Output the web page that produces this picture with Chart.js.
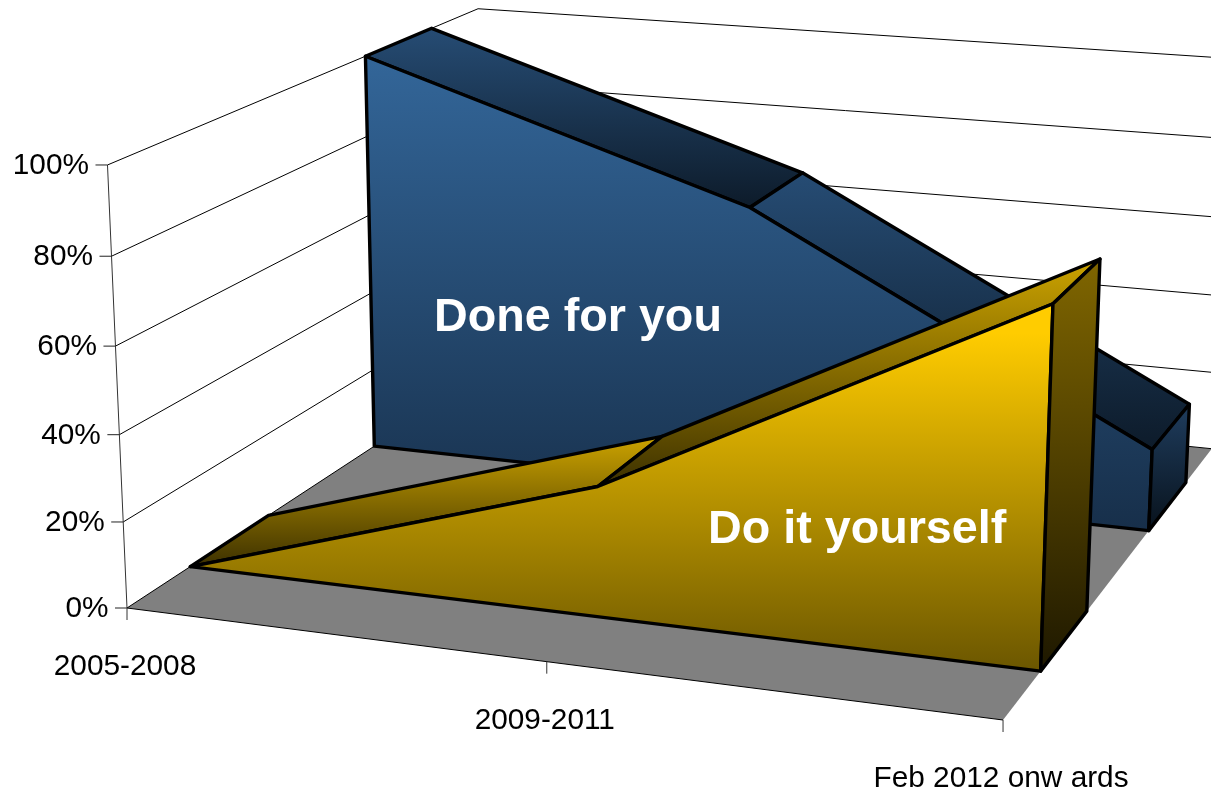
<!DOCTYPE html>
<html>
<head>
<meta charset="utf-8">
<title>Done for you / Do it yourself</title>
<script src="https://cdn.jsdelivr.net/npm/chart.js@4/dist/chart.umd.min.js"></script>
<style>
html,body{margin:0;padding:0;background:#fff;overflow:hidden;}
canvas{display:block;}
</style>
</head>
<body>
<canvas id="grafico" width="1211" height="789"></canvas>
<script>

/* =============================
DATA
============================= */

const categorias=["2005-2008","2009-2011","Feb 2012 onw ards"];
const doneForYou=[100,70,20];
const doItYourself=[0,30,80];
const yTicks=[0,20,40,60,80,100];
const yTickLabels=["0%","20%","40%","60%","80%","100%"];

/* =============================
PROJECTION (3D box to screen)
u = along categories, v = height, d = depth, all 0..1
============================= */

function projetar(u,v,d){
const w=1-0.08*u-0.0362*v+0.225*d;
return {
x:(127+795.8*u-23.4*v+464.7*d)/w,
y:(608+54.4*u-449*v-148.6*d)/w
};
}

const FONTE='"Liberation Sans", Arial, sans-serif';

function poligono(ctx,pts){
ctx.beginPath();
pts.forEach((p,i)=>{
if(i==0) ctx.moveTo(p.x,p.y);
else ctx.lineTo(p.x,p.y);
});
ctx.closePath();
}

function linha(ctx,a,b,cor,larg){
ctx.strokeStyle=cor;
ctx.lineWidth=larg;
ctx.beginPath();
ctx.moveTo(a.x,a.y);
ctx.lineTo(b.x,b.y);
ctx.stroke();
}

/* face with vertical gradient, thick black border */
function face(ctx,pts,paradas){
const ys=pts.map(p=>p.y);
const g=ctx.createLinearGradient(0,Math.min(...ys),0,Math.max(...ys));
paradas.forEach(([pos,cor])=>g.addColorStop(pos,cor));
poligono(ctx,pts);
ctx.fillStyle=g;
ctx.fill();
ctx.strokeStyle="#000";
ctx.lineWidth=3.4;
ctx.lineJoin="round";
ctx.stroke();
}

/* =============================
3D AREA SERIES
============================= */

function desenharSerie(chart,indice,d0,d1,cores){

const ctx=chart.ctx;
const area=chart.chartArea;

/* points come from the library's scales, normalised to the chart area */
const pontos=chart.getDatasetMeta(indice).data.map(el=>({
u:(el.x-area.left)/area.width,
v:(area.bottom-el.y)/area.height
}));

/* top facets */
for(let i=0;i<pontos.length-1;i++){
const a=pontos[i],b=pontos[i+1];
face(ctx,[
projetar(a.u,a.v,d0),projetar(a.u,a.v,d1),
projetar(b.u,b.v,d1),projetar(b.u,b.v,d0)
],cores.topo);
}

/* front */
const frente=pontos.map(p=>projetar(p.u,p.v,d0));
const ult=pontos[pontos.length-1],pri=pontos[0];
frente.push(projetar(ult.u,0,d0));
frente.push(projetar(pri.u,0,d0));
face(ctx,frente,cores.frente);

/* right cap */
face(ctx,[
projetar(ult.u,ult.v,d0),projetar(ult.u,ult.v,d1),
projetar(ult.u,0,d1),projetar(ult.u,0,d0)
],cores.lado);

}

/* =============================
WALLS, FLOOR, AXES
============================= */

const caixa3d={
id:"caixa3d",
afterDatasetsDraw(chart){

const ctx=chart.ctx;
const area=chart.chartArea;
const escY=chart.scales.y;
const escX=chart.scales.x;

ctx.save();

/* floor */
poligono(ctx,[projetar(0,0,0),projetar(1,0,0),projetar(1,0,1),projetar(0,0,1)]);
ctx.fillStyle="#808080";
ctx.fill();

/* grid lines on left and back wall */
yTicks.forEach(t=>{
const v=(area.bottom-escY.getPixelForValue(t))/area.height;
linha(ctx,projetar(0,v,0),projetar(0,v,1),"#000",1);
linha(ctx,projetar(0,v,1),projetar(1,v,1),"#000",1);
});

/* vertical axis and ticks */
linha(ctx,projetar(0,0,0),projetar(0,1,0),"#333",1);
ctx.font="29.8px "+FONTE;
ctx.textAlign="right";
ctx.textBaseline="middle";
yTicks.forEach((t,i)=>{
const v=(area.bottom-escY.getPixelForValue(t))/area.height;
const p=projetar(0,v,0);
linha(ctx,p,{x:p.x-12,y:p.y},"#222",1);
ctx.fillStyle="#000";
ctx.fillText(yTickLabels[i],p.x-18.5,p.y+1);
});

/* category axis */
linha(ctx,projetar(0,0,0),projetar(1,0,0),"#000",1);
ctx.textAlign="center";
ctx.textBaseline="alphabetic";
categorias.forEach((c,i)=>{
const u=(escX.getPixelForValue(i)-area.left)/area.width;
const p=projetar(u,0,0);
linha(ctx,p,{x:p.x,y:p.y+12},"#333",1);
ctx.fillStyle="#000";
ctx.fillText(c,p.x-2,p.y+67);
});

/* series back to front */
desenharSerie(chart,0,0.65,0.85,{
frente:[[0,"#336699"],[1,"#172f4a"]],
topo:[[0,"#264c74"],[1,"#0d1b2a"]],
lado:[[0,"#1f3d5e"],[1,"#08121c"]]
});
desenharSerie(chart,1,0.15,0.35,{
frente:[[0,"#ffcc00"],[0.08,"#ffcc00"],[1,"#6b5600"]],
topo:[[0,"#cca300"],[1,"#3d3100"]],
lado:[[0,"#806600"],[1,"#1e1800"]]
});

/* series names */
ctx.fillStyle="#fff";
ctx.font="bold 46.7px "+FONTE;
ctx.textAlign="left";
ctx.textBaseline="alphabetic";
ctx.fillText(chart.data.datasets[0].label,434,331);
ctx.fillText(chart.data.datasets[1].label,708,543);

ctx.restore();

}
};

/* =============================
CHART
============================= */

new Chart(document.getElementById("grafico"),{
type:"line",
data:{
labels:categorias,
datasets:[
{label:"Done for you",data:doneForYou,showLine:false,pointRadius:0},
{label:"Do it yourself",data:doItYourself,showLine:false,pointRadius:0}
]
},
options:{
responsive:false,
animation:false,
layout:{padding:0},
plugins:{legend:{display:false},tooltip:{enabled:false}},
scales:{
x:{type:"category",display:false,offset:false},
y:{display:false,min:0,max:100,ticks:{stepSize:20}}
}
},
plugins:[caixa3d]
});

</script>
</body>
</html>
